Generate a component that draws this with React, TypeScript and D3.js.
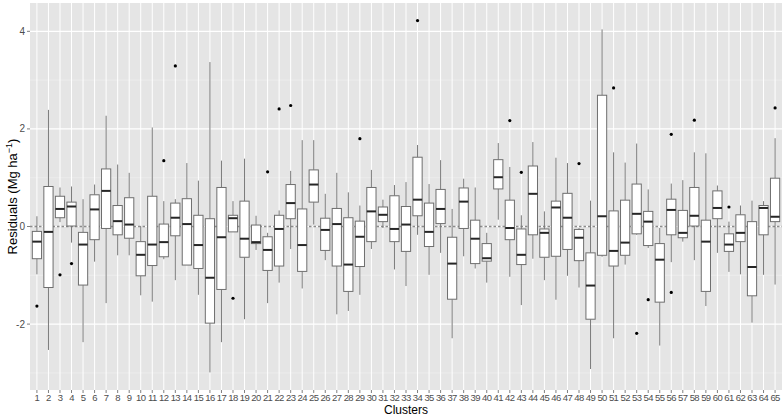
import React, { useEffect, useRef } from 'react';
import * as d3 from 'd3';

const clusters = d3.range(1, 66).map(String);

// five-number summaries, one entry per cluster
const whiskerLow = [
  -0.98, -2.53, 0.09, -0.33, -2.37, -0.72, -1.57, -0.59, -0.59, -1.41,
  -1.54, -0.67, -1.1, -0.79, -1.4, -2.99, -2.37, -0.11, -1.9, -0.48,
  -1.57, -1.15, -0.46, -1.27, 0.04, -0.69, -1.8, -1.73, -1.4, -0.46,
  -0.03, -0.88, -1.22, -0.17, -0.99, -0.54, -2.29, -0.61, -0.86, -1.15,
  0.14, -1.03, -1.61, -0.66, -1.1, -1.5, -1.01, -1.25, -2.92, -0.62,
  -2.29, -0.78, -0.17, -0.44, -2.44, -0.73, -0.31, -0.69, -1.63, -0.54,
  -0.93, -0.98, -1.97, -0.99, -1.19,
];
const q1 = [
  -0.66, -1.25, 0.18, 0.01, -1.2, -0.27, -0.04, -0.17, -0.24, -1.01,
  -0.8, -0.62, -0.19, -0.79, -0.86, -1.98, -1.29, -0.11, -0.63, -0.35,
  -0.9, -0.81, 0.16, -0.92, 0.5, -0.49, -0.81, -1.33, -0.82, -0.31,
  0.1, -0.31, -0.51, 0.22, -0.41, 0.06, -1.49, -0.04, -0.76, -0.71,
  0.77, -0.27, -0.78, -0.17, -0.63, -0.61, -0.47, -0.7, -1.9, -0.59,
  -0.81, -0.59, -0.15, -0.39, -1.55, -0.17, -0.23, 0.01, -1.33, 0.16,
  -0.51, -0.31, -1.42, -0.17, 0.1,
];
const medians = [
  -0.31, -0.11, 0.36, 0.41, -0.37, 0.35, 0.73, 0.11, 0.04, -0.58,
  -0.37, -0.32, 0.18, 0.05, -0.38, -1.05, -0.22, 0.17, -0.25, -0.32,
  -0.48, -0.05, 0.48, -0.38, 0.86, -0.07, 0.05, -0.78, -0.21, 0.31,
  0.24, -0.05, 0.04, 0.55, -0.11, 0.36, -0.76, 0.51, -0.25, -0.65,
  1.01, -0.03, -0.58, 0.67, -0.13, 0.39, 0.18, -0.23, -1.21, 0.21,
  -0.5, -0.33, 0.26, 0.1, -0.68, 0.34, -0.13, 0.22, -0.31, 0.38,
  -0.37, -0.13, -0.83, 0.38, 0.2,
];
const q3 = [
  -0.1, 0.82, 0.62, 0.5, -0.12, 0.65, 1.18, 0.43, 0.59, -0.31,
  0.62, 0.05, 0.48, 0.57, 0.23, 0.16, 0.8, 0.23, 0.52, 0.03,
  -0.21, 0.23, 0.86, 0.36, 1.16, 0.17, 0.37, 0.18, 0.11, 0.8,
  0.4, 0.63, 0.41, 1.42, 0.48, 0.76, -0.22, 0.79, 0.13, -0.35,
  1.37, 0.54, -0.05, 1.24, -0.05, 0.52, 0.68, -0.06, -0.54, 2.69,
  0.32, 0.54, 0.87, 0.31, -0.35, 0.56, 0.33, 0.8, 0.13, 0.73,
  -0.15, 0.24, 0.1, 0.43, 0.99,
];
const whiskerHigh = [
  0.21, 2.39, 0.8, 0.82, 0.56, 0.86, 2.27, 1.27, 1.1, 0.01,
  2.03, 0.52, 0.56, 1.3, 0.94, 3.37, 1.35, 0.52, 1.39, 0.22,
  -0.13, 0.33, 1.14, 1.77, 1.77, 0.67, 1.1, 0.7, 0.43, 1.16,
  0.55, 0.85, 0.91, 1.67, 0.87, 1.36, 0.36, 0.98, 0.8, -0.13,
  1.71, 1.22, 0.23, 1.73, 0.31, 1.41, 1.3, -0.03, 0.53, 4.04,
  1.52, 1.31, 1.7, 0.76, -0.03, 0.88, 0.95, 1.52, 1.5, 0.84,
  0.1, 0.43, 0.53, 0.52, 1.81,
];
const outlierCluster = [1, 3, 4, 12, 13, 18, 21, 22, 23, 29, 34, 42, 43, 48, 51, 53, 54, 56, 56, 58, 61, 65];
const outlierValue = [-1.63, -0.99, -0.76, 1.35, 3.29, -1.47, 1.12, 2.41, 2.48, 1.8, 4.22, 2.17, 1.11, 1.29, 2.84, -2.19, -1.5, 1.89, -1.35, 2.18, 0.4, 2.43];

const yTicks = [-2, 0, 2, 4];
const yMinor = [-3, -1, 1, 3];

const W = 784;
const H = 417;
const margin = { top: 3, right: 2, bottom: 27, left: 30 };
const font = 'Liberation Sans, Arial, sans-serif';

const App = () => {
  const ref = useRef(null);

  useEffect(() => {
    const g = d3.select(ref.current);
    g.selectAll('*').remove();

    const pw = W - margin.left - margin.right;
    const ph = H - margin.top - margin.bottom;

    const lo = d3.min([...whiskerLow, ...outlierValue]);
    const hi = d3.max([...whiskerHigh, ...outlierValue]);
    const pad = (hi - lo) * 0.05;

    const x = d3.scalePoint().domain(clusters).range([0, pw]).padding(0.6);
    const y = d3.scaleLinear().domain([lo - pad, hi + pad]).range([ph, 0]);
    const bw = x.step() * 0.8;

    g.append('rect').attr('width', pw).attr('height', ph).attr('fill', '#e5e5e5');

    g.selectAll('line.minor')
      .data(yMinor)
      .enter()
      .append('line')
      .attr('x1', 0)
      .attr('x2', pw)
      .attr('y1', (d) => y(d))
      .attr('y2', (d) => y(d))
      .attr('stroke', '#f2f2f2')
      .attr('stroke-width', 0.6);

    g.selectAll('line.major')
      .data(yTicks)
      .enter()
      .append('line')
      .attr('x1', 0)
      .attr('x2', pw)
      .attr('y1', (d) => y(d))
      .attr('y2', (d) => y(d))
      .attr('stroke', '#fff')
      .attr('stroke-width', 1.1);

    g.selectAll('line.vgrid')
      .data(clusters)
      .enter()
      .append('line')
      .attr('x1', (d) => x(d))
      .attr('x2', (d) => x(d))
      .attr('y1', 0)
      .attr('y2', ph)
      .attr('stroke', '#fff')
      .attr('stroke-width', 1);

    g.append('line')
      .attr('x1', 0)
      .attr('x2', pw)
      .attr('y1', y(0))
      .attr('y2', y(0))
      .attr('stroke', '#8c8c8c')
      .attr('stroke-width', 1.4)
      .attr('stroke-dasharray', '2.5,2');

    const boxes = g
      .selectAll('g.box')
      .data(clusters)
      .enter()
      .append('g')
      .attr('class', 'box')
      .attr('transform', (d) => `translate(${x(d)},0)`);

    boxes
      .append('line')
      .attr('y1', (d, i) => y(whiskerHigh[i]))
      .attr('y2', (d, i) => y(q3[i]))
      .attr('stroke', '#7a7a7a')
      .attr('stroke-width', 1);
    boxes
      .append('line')
      .attr('y1', (d, i) => y(q1[i]))
      .attr('y2', (d, i) => y(whiskerLow[i]))
      .attr('stroke', '#7a7a7a')
      .attr('stroke-width', 1);
    boxes
      .append('rect')
      .attr('x', -bw / 2)
      .attr('width', bw)
      .attr('y', (d, i) => y(q3[i]))
      .attr('height', (d, i) => y(q1[i]) - y(q3[i]))
      .attr('fill', '#fff')
      .attr('stroke', '#6e6e6e')
      .attr('stroke-width', 1);
    boxes
      .append('line')
      .attr('x1', -bw / 2)
      .attr('x2', bw / 2)
      .attr('y1', (d, i) => y(medians[i]))
      .attr('y2', (d, i) => y(medians[i]))
      .attr('stroke', '#262626')
      .attr('stroke-width', 2);

    g.selectAll('circle.out')
      .data(outlierValue)
      .enter()
      .append('circle')
      .attr('cx', (d, i) => x(String(outlierCluster[i])))
      .attr('cy', (d) => y(d))
      .attr('r', 1.6)
      .attr('fill', '#000');

    // axes
    g.selectAll('line.ytick')
      .data(yTicks)
      .enter()
      .append('line')
      .attr('x1', -3)
      .attr('x2', 0)
      .attr('y1', (d) => y(d))
      .attr('y2', (d) => y(d))
      .attr('stroke', '#7f7f7f');
    g.selectAll('text.ytick')
      .data(yTicks)
      .enter()
      .append('text')
      .attr('x', -5)
      .attr('y', (d) => y(d))
      .attr('dy', '0.35em')
      .attr('text-anchor', 'end')
      .style('font-family', font)
      .style('font-size', '10px')
      .style('fill', '#4d4d4d')
      .text((d) => d);

    g.selectAll('line.xtick')
      .data(clusters)
      .enter()
      .append('line')
      .attr('x1', (d) => x(d))
      .attr('x2', (d) => x(d))
      .attr('y1', ph)
      .attr('y2', ph + 3)
      .attr('stroke', '#7f7f7f');
    g.selectAll('text.xtick')
      .data(clusters)
      .enter()
      .append('text')
      .attr('x', (d) => x(d))
      .attr('y', ph + 11)
      .attr('text-anchor', 'middle')
      .style('font-family', font)
      .style('font-size', '9.5px')
      .style('letter-spacing', '-0.6px')
      .style('fill', '#4d4d4d')
      .text((d) => d);

    g.append('text')
      .attr('x', pw / 2)
      .attr('y', ph + 24)
      .attr('text-anchor', 'middle')
      .style('font-family', font)
      .style('font-size', '12px')
      .style('fill', '#000')
      .text('Clusters');

    const yt = g
      .append('text')
      .attr('transform', `translate(${-margin.left + 17},${ph / 2}) rotate(-90)`)
      .attr('text-anchor', 'middle')
      .style('font-family', font)
      .style('font-size', '13px')
      .style('fill', '#000');
    yt.append('tspan').text('Residuals (Mg ha');
    yt.append('tspan').attr('dy', -5).style('font-size', '9px').text('\u22121');
    yt.append('tspan').attr('dy', 5).text(')');
  }, []);

  return (
    <svg width={W} height={H} style={{ position: 'absolute', left: 0, top: 0, background: '#fff' }}>
      <g ref={ref} transform={`translate(${margin.left},${margin.top})`} />
    </svg>
  );
};

export default App;
